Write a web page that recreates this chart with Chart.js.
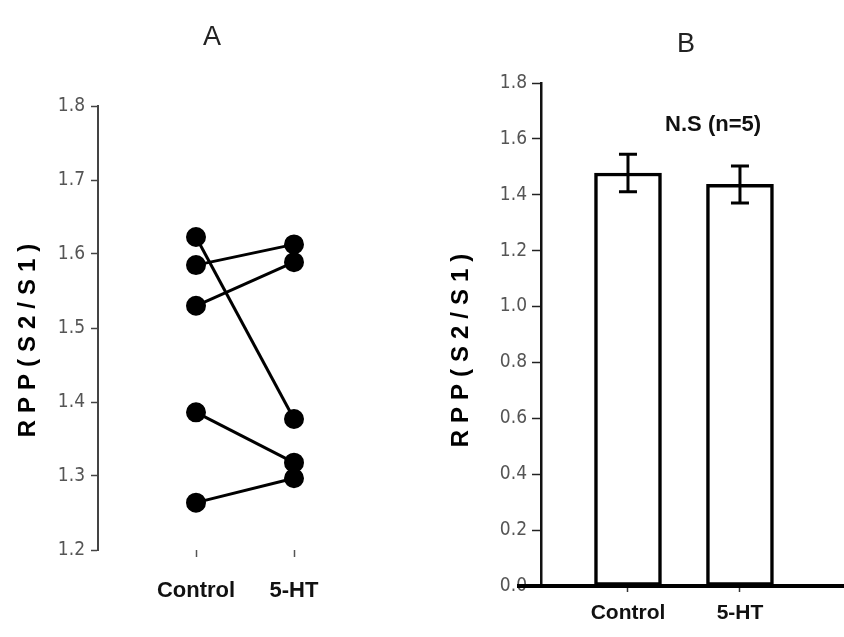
<!DOCTYPE html>
<html>
<head>
<meta charset="utf-8">
<script src="https://cdn.jsdelivr.net/npm/chart.js@4/dist/chart.umd.min.js"></script>
<style>
  body { margin: 0; background: #fff; }
  #wrap { position: relative; width: 844px; height: 637px; }
  canvas { position: absolute; top: 0; }
  #pairs { left: 0; }
  #bars { left: 420px; }
</style>
</head>
<body>
<div id="wrap">
  <canvas id="pairs" width="420" height="637"></canvas>
  <canvas id="bars" width="424" height="637"></canvas>
</div>
<script>
// groups + values per animal (same order in both arrays)
const groups = ["Control", "5-HT"];
const controlRpp = [1.623, 1.585, 1.530, 1.386, 1.264];
const htRpp = [1.377, 1.613, 1.589, 1.318, 1.297];

// mean +/- SEM for the bar panel
const barMeans = [1.478, 1.437];
const barSem = [0.067, 0.066];

const yTicksA = [1.2, 1.3, 1.4, 1.5, 1.6, 1.7, 1.8];
const yTicksB = [0, 0.2, 0.4, 0.6, 0.8, 1.0, 1.2, 1.4, 1.6, 1.8];

const COND = "'DejaVu Sans Condensed', 'Liberation Sans Narrow', 'Liberation Sans', Arial, sans-serif";
const SANS = "'Liberation Sans', Arial, sans-serif";

// panel letter + rotated y title, drawn by hand so letter spacing works
function labelsPlugin(letter, lx, ly, tx, ty) {
  return {
    id: "labels",
    afterDraw(chart) {
      const ctx = chart.ctx;
      ctx.save();
      ctx.fillStyle = "#222";
      ctx.font = "27px " + SANS;
      ctx.textAlign = "center";
      ctx.textBaseline = "middle";
      ctx.fillText(letter, lx, ly);

      ctx.translate(tx, ty);
      ctx.rotate(-Math.PI / 2);
      ctx.fillStyle = "#000";
      ctx.font = "bold 24px " + SANS;
      ctx.letterSpacing = "7px";
      ctx.fillText("RPP(S2/S1)", 3, 0);
      ctx.restore();
    }
  };
}

// ---- panel A: paired points ----
const pairSets = controlRpp.map((c, i) => ({
  data: [{ x: 1, y: c }, { x: 2, y: htRpp[i] }],
  borderColor: "#000",
  backgroundColor: "#000",
  borderWidth: 3,
  pointRadius: 8.5,
  pointHoverRadius: 8.5,
  showLine: true
}));

new Chart(document.getElementById("pairs"), {
  type: "scatter",
  data: { datasets: pairSets },
  options: {
    responsive: false,
    animation: false,
    layout: { padding: { top: 106, right: 28, bottom: 0, left: 0 } },
    plugins: { legend: { display: false }, tooltip: { enabled: false } },
    scales: {
      x: {
        type: "linear",
        min: 0,
        max: 3,
        afterBuildTicks: (s) => { s.ticks = [{ value: 1 }, { value: 2 }]; },
        afterFit: (s) => { s.height = 87; },
        ticks: {
          callback: (v) => groups[v - 1],
          font: { family: SANS, size: 22, weight: "bold" },
          color: "#111",
          padding: 21,
          maxRotation: 0
        },
        grid: { drawOnChartArea: false, tickLength: 7, tickColor: "#555", tickWidth: 1.5 },
        border: { display: false }
      },
      y: {
        min: 1.2,
        max: 1.8,
        afterBuildTicks: (s) => { s.ticks = yTicksA.map((v) => ({ value: v })); },
        afterFit: (s) => { s.width = 98; },
        ticks: {
          callback: (v) => v.toFixed(1),
          font: { family: COND, size: 19 },
          color: "#555",
          padding: 6
        },
        grid: { drawOnChartArea: false, tickLength: 7, tickColor: "#444", tickWidth: 1.5 },
        border: { color: "#444", width: 2 }
      }
    }
  },
  plugins: [labelsPlugin("A", 212, 38, 28, 340)]
});

// ---- panel B: bars with error bars ----
const errorBars = {
  id: "errorBars",
  afterDatasetsDraw(chart) {
    const { ctx, scales: { x, y }, chartArea } = chart;
    ctx.save();
    // baseline runs a bit left of the y axis
    const y0 = y.getPixelForValue(0);
    ctx.strokeStyle = "#000";
    ctx.lineWidth = 4;
    ctx.beginPath();
    ctx.moveTo(chartArea.left - 24, y0);
    ctx.lineTo(chart.width, y0);
    ctx.stroke();

    ctx.lineWidth = 3;
    barMeans.forEach((m, i) => {
      const px = x.getPixelForValue(i + 1);
      const top = y.getPixelForValue(m + barSem[i]);
      const bot = y.getPixelForValue(m - barSem[i]);
      ctx.beginPath();
      ctx.moveTo(px, top); ctx.lineTo(px, bot);
      ctx.moveTo(px - 9, top); ctx.lineTo(px + 9, top);
      ctx.moveTo(px - 9, bot); ctx.lineTo(px + 9, bot);
      ctx.stroke();
    });

    ctx.fillStyle = "#111";
    ctx.font = "bold 22px " + SANS;
    ctx.textAlign = "center";
    ctx.textBaseline = "middle";
    ctx.fillText("N.S (n=5)", x.getPixelForValue(1.76), y.getPixelForValue(1.65));
    ctx.restore();
  }
};

new Chart(document.getElementById("bars"), {
  type: "bar",
  data: {
    datasets: [{
      data: barMeans.map((m, i) => ({ x: i + 1, y: m })),
      backgroundColor: "#fff",
      borderColor: "#000",
      borderWidth: 3.5,
      borderSkipped: false,
      barThickness: 67
    }]
  },
  options: {
    responsive: false,
    animation: false,
    layout: { padding: { top: 83, right: 0, bottom: 0, left: 0 } },
    plugins: { legend: { display: false }, tooltip: { enabled: false } },
    scales: {
      x: {
        type: "linear",
        offset: false,
        min: 0.2232,
        max: 2.929,
        afterBuildTicks: (s) => { s.ticks = [{ value: 1 }, { value: 2 }]; },
        afterFit: (s) => { s.height = 51; },
        ticks: {
          callback: (v) => groups[v - 1],
          font: { family: SANS, size: 21, weight: "bold" },
          color: "#111",
          padding: 9,
          maxRotation: 0
        },
        grid: { offset: false, drawOnChartArea: false, tickLength: 6, tickColor: "#333", tickWidth: 1.5 },
        border: { display: false }
      },
      y: {
        min: 0,
        max: 1.8,
        afterBuildTicks: (s) => { s.ticks = yTicksB.map((v) => ({ value: v })); },
        afterFit: (s) => { s.width = 121; },
        ticks: {
          callback: (v) => v.toFixed(1),
          font: { family: COND, size: 19 },
          color: "#555",
          padding: 5
        },
        grid: { drawOnChartArea: false, tickLength: 9, tickColor: "#222", tickWidth: 1.5 },
        border: { color: "#111", width: 2.5 }
      }
    }
  },
  plugins: [errorBars, labelsPlugin("B", 266, 45, 41, 350)]
});
</script>
</body>
</html>
